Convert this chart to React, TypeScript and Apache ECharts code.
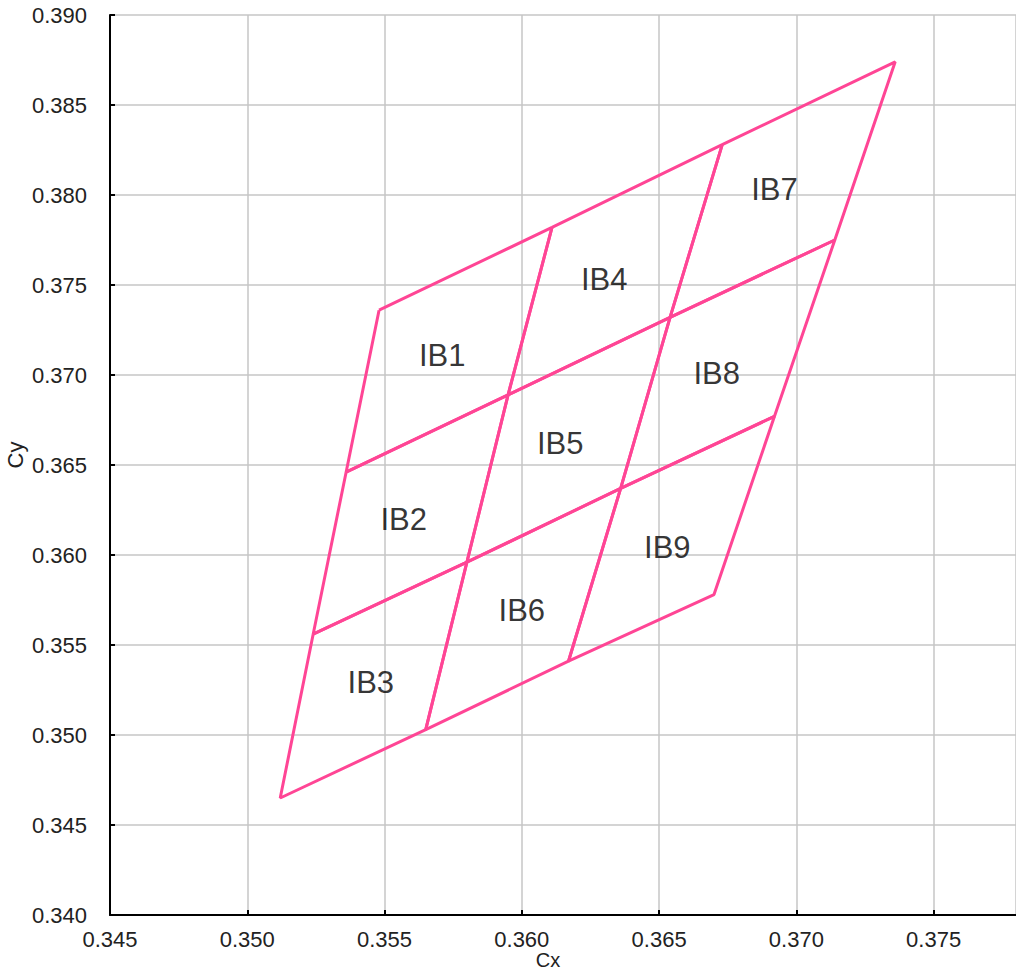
import React, { useEffect, useRef } from "react";
import * as echarts from "echarts";

// Grid corner points of the 3x3 bin layout (rows top→bottom, cols left→right)
const gridX: number[][] = [
  [0.3548, 0.3611, 0.3673, 0.3736],
  [0.3536, 0.3595, 0.3654, 0.3714],
  [0.3524, 0.3580, 0.3636, 0.3692],
  [0.3512, 0.3565, 0.3617, 0.3670],
];
const gridY: number[][] = [
  [0.3736, 0.3782, 0.3828, 0.3874],
  [0.3646, 0.3689, 0.3732, 0.3775],
  [0.3556, 0.3596, 0.3637, 0.3677],
  [0.3465, 0.3503, 0.3541, 0.3578],
];

const binNames = ["IB1", "IB2", "IB3", "IB4", "IB5", "IB6", "IB7", "IB8", "IB9"];
const binRow = [0, 1, 2, 0, 1, 2, 0, 1, 2];
const binCol = [0, 0, 0, 1, 1, 1, 2, 2, 2];
const labelX = [0.3571, 0.3557, 0.3545, 0.3630, 0.3614, 0.3600, 0.3692, 0.3671, 0.3653];
const labelY = [0.3711, 0.3620, 0.3529, 0.3753, 0.3662, 0.3569, 0.3803, 0.3701, 0.3604];

const xMin = 0.345;
const xMax = 0.378;
const yMin = 0.34;
const yMax = 0.39;
const tickStep = 0.005;

const LINE_COLOR = "#ff4595";
const FONT = "'Liberation Sans', Arial, sans-serif";

export default function App() {
  const ref = useRef<HTMLDivElement>(null);

  useEffect(() => {
    if (!ref.current) return;
    const chart = echarts.init(ref.current, undefined, { renderer: "svg" });

    const binSeries = binNames.map((name, i) => {
      const r = binRow[i];
      const c = binCol[i];
      const pts = [
        [gridX[r][c], gridY[r][c]],
        [gridX[r][c + 1], gridY[r][c + 1]],
        [gridX[r + 1][c + 1], gridY[r + 1][c + 1]],
        [gridX[r + 1][c], gridY[r + 1][c]],
        [gridX[r][c], gridY[r][c]],
      ];
      return {
        type: "line",
        name,
        data: pts,
        showSymbol: false,
        symbol: "none",
        lineStyle: { color: LINE_COLOR, width: 3 },
        z: 3,
      };
    });

    const labelSeries = {
      type: "scatter",
      symbolSize: 1,
      itemStyle: { color: "rgba(0,0,0,0)" },
      data: binNames.map((n, i) => ({ name: n, value: [labelX[i], labelY[i]] })),
      label: {
        show: true,
        position: "inside",
        formatter: "{b}",
        fontSize: 31,
        fontFamily: FONT,
        color: "#000",
        textBorderWidth: 0,
      },
      z: 4,
    };

    chart.setOption({
      animation: false,
      backgroundColor: "#fff",
      grid: { left: 110, top: 15, right: 0, bottom: 56, containLabel: false },
      xAxis: {
        type: "value",
        min: xMin,
        max: xMax,
        interval: tickStep,
        axisLine: { show: true, onZero: false, lineStyle: { color: "#000", width: 2 } },
        axisTick: { show: true, inside: true, length: 5, lineStyle: { color: "#000", width: 2 } },
        axisLabel: {
          margin: 13,
          fontSize: 22,
          fontFamily: FONT,
          color: "#222",
          showMaxLabel: false,
          formatter: (v: number) => v.toFixed(3),
        },
        splitLine: { show: true, lineStyle: { color: "#c6c6c6", width: 1.5 } },
      },
      yAxis: {
        type: "value",
        min: yMin,
        max: yMax,
        interval: tickStep,
        axisLine: { show: true, onZero: false, lineStyle: { color: "#000", width: 2 } },
        axisTick: { show: true, inside: true, length: 5, lineStyle: { color: "#000", width: 2 } },
        axisLabel: {
          margin: 23,
          fontSize: 22,
          fontFamily: FONT,
          color: "#222",
          formatter: (v: number) => v.toFixed(3),
        },
        splitLine: { show: true, lineStyle: { color: "#c6c6c6", width: 1.5 } },
      },
      graphic: [
        {
          type: "text",
          x: 548,
          y: 970,
          style: {
            text: "Cx",
            fontSize: 20,
            fontFamily: FONT,
            fill: "#222",
            align: "center",
            verticalAlign: "bottom",
          },
        },
        {
          type: "text",
          x: 15,
          y: 455,
          rotation: Math.PI / 2,
          style: {
            text: "Cy",
            fontSize: 22,
            fontFamily: FONT,
            fill: "#222",
            align: "center",
            verticalAlign: "middle",
          },
        },
      ],
      series: [...binSeries, labelSeries],
    });

    return () => chart.dispose();
  }, []);

  return (
    <div
      ref={ref}
      style={{ position: "absolute", left: 0, top: 0, width: 1016, height: 971 }}
    />
  );
}
